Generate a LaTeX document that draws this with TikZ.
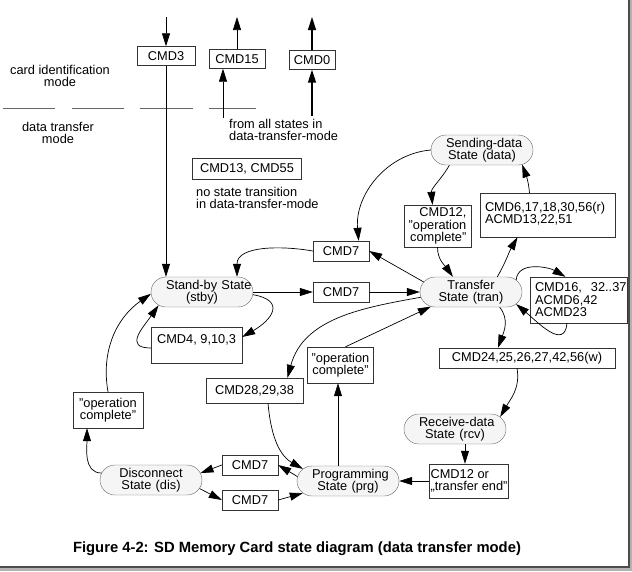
\documentclass[tikz,border=0pt]{standalone}
\usepackage{fontspec}
\setmainfont{Liberation Sans}
\usetikzlibrary{arrows.meta,shapes.misc}

\begin{document}
\begin{tikzpicture}[x=1pt,y=-1pt,
	every node/.style={font=\fontsize{12.8}{12.5}\selectfont},
	state/.style={rounded rectangle,draw=black!60,fill=black!4,minimum width=102pt,minimum height=30pt,text width=72pt,inner xsep=0pt,inner ysep=1pt,align=center},
	box/.style={draw=black!80,minimum height=20pt,inner xsep=4pt,inner ysep=1pt,align=center},
	arr/.style={-{Triangle[length=13pt,width=8pt]},line width=0.7pt}]
\useasboundingbox (0,0) rectangle (632,571);
\fill[black!70] (628,0) rectangle (630,568);
\fill[black!30] (630,0) rectangle (632,571);
\fill[black!70] (0,566) rectangle (630,568);
\fill[black!30] (0,568) rectangle (632,571);

% mode change
\node[align=center] (cim) at (60,76) {card identification\\mode};
\node[align=center] (dtm) at (58,133) {data transfer\\mode};
\foreach \a/\b in {3/55,72/124,140/193,209/256}
	\draw[black!60] (\a,108) -- (\b,108);
\node[box,minimum width=58pt,minimum height=19pt] (cmd3) at (166,56) {CMD3};
\node[box,minimum width=56pt,minimum height=19pt] (cmd15) at (237,59) {CMD15};
\node[box,minimum width=46pt,minimum height=19pt] (cmd0) at (312,60) {CMD0};
\coordinate (in3) at (166,17);
\coordinate (out15) at (237,17);
\coordinate (out0) at (312,17);
\coordinate (all15) at (223,118);
\coordinate (all0) at (312,116);
\node[align=left,anchor=west,inner sep=0pt] (all) at (229,130) {from all states in\\data-transfer-mode};
\node[box,minimum width=109pt,minimum height=21pt] (cmd13) at (247,169) {CMD13, CMD55};
\node[align=left,anchor=west,inner sep=0pt] (nost) at (196,198) {no state transition\\in data-transfer-mode};

% states
\node[state] (stby) at (202,292) {\mbox{Stand-by State}\\(stby)};
\node[state] (tran) at (471,292) {Transfer\\State (tran)};
\node[state] (data) at (482,150) {\mbox{Sending-data}\\State (data)};
\node[state] (rcv) at (455,429) {\mbox{Receive-data}\\State (rcv)};
\node[state] (prg) at (348,481) {\mbox{Programming}\\State (prg)};
\node[state] (dis) at (151,480) {Disconnect\\State (dis)};

% commands
\node[box,minimum width=56pt] (t7a) at (341,251) {CMD7};
\node[box,minimum width=56pt] (t7b) at (341,292) {CMD7};
\node[box,minimum width=56pt] (b7a) at (250,465) {CMD7};
\node[box,minimum width=56pt] (b7b) at (250,500) {CMD7};
\node[box,text width=125pt,inner xsep=5pt,minimum height=44pt,align=left] (c6) at (547.5,215) {\rule{0pt}{17pt}CMD6,17,18,30,56(r)\\ACMD13,22,51\\~};
\node[box,minimum width=67pt,minimum height=42pt,align=right] (c12) at (437.5,226) {CMD12,\\"operation\\complete"};
\node[box,text width=87pt,inner xsep=5pt,minimum height=46pt,align=left] (c16) at (578.5,300) {\mbox{CMD16,\hspace{9pt}32..37}\\ACMD6,42\\ACMD23};
\node[box,minimum width=176pt] (c24) at (527,358) {CMD24,25,26,27,42,56(w)};
\node[box,minimum width=65pt,minimum height=36pt] (oc2) at (340.5,365) {"operation\\complete"};
\node[box,minimum width=97pt,minimum height=25pt] (c28) at (254.5,390.5) {CMD28,29,38};
\node[box,minimum width=78pt,minimum height=34pt,inner xsep=1pt,align=left] (ce) at (469,481) {CMD12 or\\„transfer end"};
\node[box,minimum width=70pt,minimum height=36pt] (oc1) at (108,410) {"operation\\complete"};
\node[box,minimum width=91pt,minimum height=36pt] (c4) at (196.5,345) {CMD4, 9,10,3\\~};

\node[font=\bfseries\fontsize{14.8}{16}\selectfont] (cap) at (297,549) {Figure 4-2: SD Memory Card state diagram (data transfer mode)};

% transitions
\draw[arr] (in3) -- (cmd3);
\draw[arr] (cmd3) -- (cmd3.south |- stby.north);
\draw[arr] (cmd15) -- (out15);
\draw[arr] (all15) -- (all15 |- cmd15.south);
\draw[arr,line width=1.5pt] (cmd0) -- (out0);
\draw[arr,line width=1.5pt] (all0) -- (cmd0);

\draw[arr] (data.west) to[out=185,in=95] (t7a.30);
\draw[arr] (data.205) to[out=240,in=95] ([xshift=-5pt]c12.north);
\draw[arr] (c12.south) to[out=-90,in=125] (tran.140);
\draw[arr] (tran.30) to[out=60,in=240] ([xshift=-30pt]c6.south);
\draw[arr] ([xshift=-18pt]c6.north) to[out=95,in=-70] (data.-20);
\draw[arr] (tran.168) -- (t7a.east);
\draw[arr] (t7a.west) to[out=170,in=90] ([xshift=35pt]stby.north);
\draw[arr] (stby.east) -- (t7b.west);
\draw[arr] (t7b.east) -- (tran.west);
\draw[arr] (stby.-3) to[out=-10,in=30,looseness=2] ([yshift=8pt]c4.east);
\draw[arr] ([yshift=-3pt]c4.west) to[out=180,in=235,looseness=1.6] (stby.197);
\draw[arr] (oc1.north) to[out=100,in=215] (stby.182);
\draw[arr] (dis.172) to[out=180,in=-90] ([xshift=-21pt]oc1.south);
\draw[arr] (prg.175) -- (b7a.east);
\draw[arr] (b7a.west) -- (dis.8);
\draw[arr] (dis.-10) -- (b7b.west);
\draw[arr] (b7b.east) -- (prg.195);
\draw[arr] (tran.186) to[out=190,in=75] ([xshift=33pt]c28.north);
\draw[arr] ([xshift=13.5pt]c28.south) to[out=-85,in=150] (prg.165);
\draw[arr] ([xshift=-10pt]prg.north) -- ([xshift=-2.5pt]oc2.south);
\draw[arr] ([xshift=5pt]oc2.north) -- (tran.200);
\draw[arr] (tran.-28) to[out=-50,in=70] ([xshift=-29pt]c24.north);
\draw[arr] ([xshift=-10pt]c24.south) to[out=-80,in=60] (rcv.15);
\draw[arr] ([xshift=10pt]rcv.south) -- ([xshift=-4pt]ce.north);
\draw[arr] (ce.west) -- (prg.east);
\draw[arr] (tran.15) to[out=85,in=150] ([xshift=-13pt]c16.north);
\draw[arr] ([xshift=-11.5pt]c16.south) to[out=-95,in=-40,looseness=1.3] (tran.-15);
\end{tikzpicture}
\end{document}
